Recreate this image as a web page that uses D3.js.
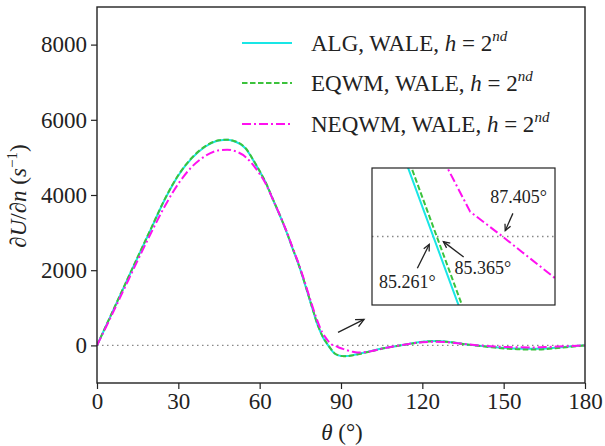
<!DOCTYPE html>
<html><head><meta charset="utf-8">
<script src="https://cdn.jsdelivr.net/npm/d3@7"></script>
<style>
body{margin:0;background:#fff;}
</style></head>
<body><svg id="c" width="605" height="446"></svg>
<script>
// ---- data ----
const theta = [0,5,10,15,20,25,30,35,40,45,48,50,55,58,60,62,65,68,70,72,74,76,78,80,81,82,83,84,85,85.7,86.4,87.4,88,89,90,91,92,94,96,100,105,110,115,120,125,130,135,140,145,150,155,160,165,170,175,180];
const algWale = [0,780,1560,2340,3110,3880,4520,4980,5290,5450,5470,5445,5220,4880,4630,4360,3860,3360,3000,2600,2220,1790,1320,850,620,430,260,130,27,-45,-117,-200,-235,-265,-280,-285,-283,-265,-235,-170,-85,-20,40,95,115,90,40,0,-35,-65,-85,-90,-80,-55,-25,0];
const eqwmWale = [0,785,1570,2350,3120,3890,4530,4990,5300,5455,5472,5450,5230,4890,4640,4370,3872,3372,3012,2612,2232,1802,1332,862,632,442,272,141,38,-34,-106,-192,-228,-260,-279,-287,-286,-270,-240,-175,-90,-25,35,90,112,88,38,-5,-45,-80,-100,-110,-100,-70,-35,0];
const neqwmWale = [0,740,1500,2260,3000,3700,4300,4750,5040,5190,5205,5185,5000,4760,4560,4330,3860,3370,3020,2630,2250,1830,1370,920,710,520,360,240,140,80,29,0,-18,-48,-75,-100,-125,-165,-190,-170,-90,-20,40,85,95,80,40,5,-20,-40,-50,-55,-45,-30,-15,0];
const seriesNames = ["ALG, WALE, ","EQWM, WALE, ","NEQWM, WALE, "];
const xTicks = [0,30,60,90,120,150,180];
const yTicks = [0,2000,4000,6000,8000];
const insetXDomain = [83.37, 89.02];
const insetYDomain = [-80, 80];
const crossings = [
  {label:"87.405°", at:[87.405,0], text:[87.9,47], from:[87.72,27]},
  {label:"85.261°", at:[85.261,0], text:[84.46,-53], from:[84.77,-37]},
  {label:"85.365°", at:[85.365,0], text:[86.79,-37], from:[86.2,-24]}
];

// ---- layout ----
const FONT = "'Liberation Serif'";
const svg = d3.select("#c");
const L=97, T=7, W=488, H=376;
const colors = ["#19e6e6","#3cc23c","#ff10f0"];
const dashes = [null,"5.5,2.5","9,3,2,3"];
const series = [algWale, eqwmWale, neqwmWale];

const x = d3.scaleLinear().domain([0,180]).range([L, L+W]);
const y = d3.scaleLinear().domain([-1000,9000]).range([T+H, T]);

svg.append("clipPath").attr("id","mainclip").append("rect").attr("x",L).attr("y",T).attr("width",W).attr("height",H);

svg.append("line").attr("x1",x(0)).attr("x2",x(180)).attr("y1",y(0)).attr("y2",y(0))
  .attr("stroke","#888").attr("stroke-width",1.3).attr("stroke-dasharray","1.5,3.5");

const lineMain = d3.line().curve(d3.curveMonotoneX);
series.forEach((s,i)=>{
  svg.append("path").attr("clip-path","url(#mainclip)")
    .attr("d", lineMain(theta.map((t,j)=>[x(t), y(s[j])])))
    .attr("fill","none").attr("stroke",colors[i]).attr("stroke-width",2)
    .attr("stroke-dasharray",dashes[i]);
});

const ax = svg.append("g").attr("transform",`translate(0,${T+H})`)
  .call(d3.axisBottom(x).tickValues(xTicks).tickSize(6).tickPadding(4).tickFormat(d3.format("d")));
const ay = svg.append("g").attr("transform",`translate(${L},0)`)
  .call(d3.axisLeft(y).tickValues(yTicks).tickSize(6).tickPadding(4).tickFormat(d3.format("d")));
[ax,ay].forEach(g=>{
  g.select(".domain").remove();
  g.selectAll("line").attr("stroke","#222").attr("stroke-width",1.2);
  g.selectAll("text").attr("fill","#222");
});
svg.append("rect").attr("x",L).attr("y",T).attr("width",W).attr("height",H)
  .attr("fill","none").attr("stroke","#222").attr("stroke-width",1.4);

const xl = svg.append("text").attr("x",342).attr("y",440).attr("text-anchor","middle").style("font-size","23px");
xl.append("tspan").style("font-style","italic").text("θ");
xl.append("tspan").text(" (°)");
const yl = svg.append("text").attr("transform","translate(26,196) rotate(-90)").attr("text-anchor","middle").style("font-size","23px");
yl.append("tspan").text("∂");
yl.append("tspan").style("font-style","italic").text("U");
yl.append("tspan").text("/∂");
yl.append("tspan").style("font-style","italic").text("n");
yl.append("tspan").text(" (");
yl.append("tspan").style("font-style","italic").text("s");
yl.append("tspan").style("font-size","15px").attr("dy",-9).text("−1");
yl.append("tspan").attr("dy",9).text(")");

const rowsY = [43,83,124];
seriesNames.forEach((nm,i)=>{
  svg.append("line").attr("x1",242).attr("x2",292).attr("y1",rowsY[i]).attr("y2",rowsY[i])
    .attr("stroke",colors[i]).attr("stroke-width",2).attr("stroke-dasharray",dashes[i]);
  const t = svg.append("text").attr("x",311).attr("y",rowsY[i]+8).style("font-size","23px");
  t.append("tspan").text(nm);
  t.append("tspan").style("font-style","italic").text("h");
  t.append("tspan").text(" = 2");
  t.append("tspan").style("font-style","italic").style("font-size","15px").attr("dy",-10).text("nd");
});

function arrow(g, x1,y1,x2,y2, head){
  g.append("line").attr("x1",x1).attr("y1",y1).attr("x2",x2).attr("y2",y2).attr("stroke","#222").attr("stroke-width",1.3);
  const a = Math.atan2(y2-y1,x2-x1), h=head||8;
  const p = [[x2-h*Math.cos(a-0.45), y2-h*Math.sin(a-0.45)],[x2,y2],[x2-h*Math.cos(a+0.45), y2-h*Math.sin(a+0.45)]];
  g.append("path").attr("d",d3.line()(p)).attr("fill","none").attr("stroke","#222").attr("stroke-width",1.3);
}
arrow(svg, x(88.9), y(345), x(98.5), y(690), 9);

const IL=372, IT=168, IW=183, IH=137;
const ix = d3.scaleLinear().domain(insetXDomain).range([IL, IL+IW]);
const iy = d3.scaleLinear().domain(insetYDomain).range([IT+IH, IT]);
svg.append("clipPath").attr("id","insclip").append("rect").attr("x",IL).attr("y",IT).attr("width",IW).attr("height",IH);
const ins = svg.append("g");
ins.append("rect").attr("x",IL).attr("y",IT).attr("width",IW).attr("height",IH).attr("fill","#fff");
ins.append("line").attr("x1",IL).attr("x2",IL+IW).attr("y1",iy(0)).attr("y2",iy(0))
  .attr("stroke","#888").attr("stroke-width",1.3).attr("stroke-dasharray","1.5,3.5");
const lineIns = d3.line();
series.forEach((s,i)=>{
  ins.append("path").attr("clip-path","url(#insclip)")
    .attr("d", lineIns(theta.map((t,j)=>[ix(t), iy(s[j])])))
    .attr("fill","none").attr("stroke",colors[i]).attr("stroke-width",2)
    .attr("stroke-dasharray",dashes[i]);
});
ins.append("rect").attr("x",IL).attr("y",IT).attr("width",IW).attr("height",IH)
  .attr("fill","none").attr("stroke","#222").attr("stroke-width",1.2);
crossings.forEach(c=>{
  ins.append("text").attr("x",ix(c.text[0])).attr("y",iy(c.text[1])).attr("dy","0.35em")
    .attr("text-anchor","middle").style("font-size","18px").text(c.label);
  const tx = ix(c.at[0]) + (ix(c.from[0])-ix(c.at[0]))*0.25;
  const ty = iy(c.at[1]) + (iy(c.from[1])-iy(c.at[1]))*0.25;
  arrow(ins, ix(c.from[0]), iy(c.from[1]), tx, ty, 7);
});

// apply font to every text inline
svg.selectAll("text").style("font-family", FONT).style("fill","#222");
svg.selectAll("g.tick text").style("font-size","23px");
</script></body></html>
